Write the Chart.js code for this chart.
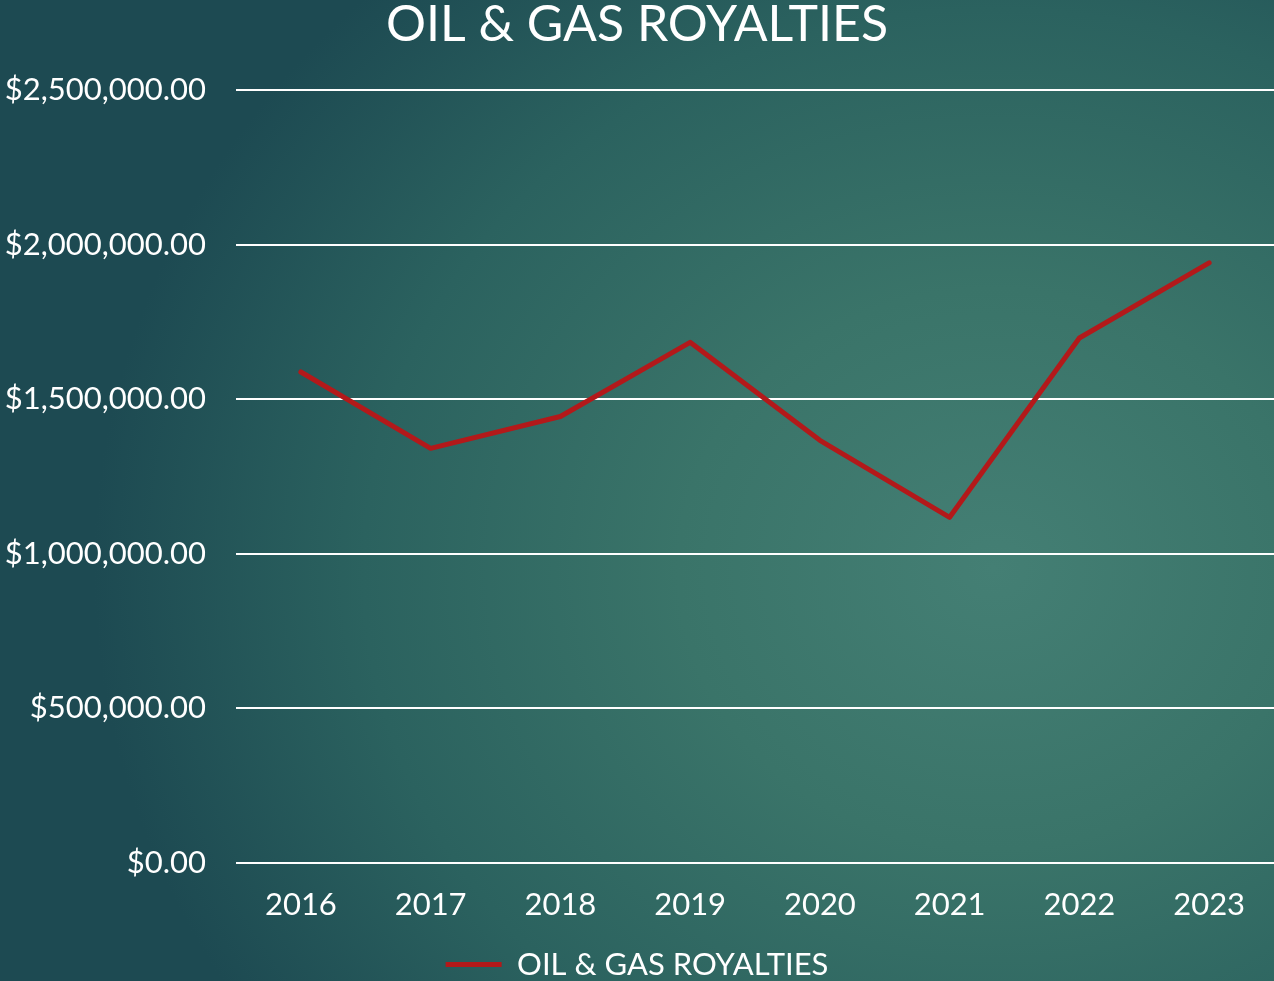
<!DOCTYPE html>
<html>
<head>
<meta charset="utf-8">
<script src="https://cdn.jsdelivr.net/npm/chart.js@4.4.1/dist/chart.umd.min.js"></script>
<style>
    html, body {
        margin: 0;
        padding: 0;
        overflow: hidden;
    }
    body {
        width: 1274px;
        height: 981px;
        background: radial-gradient(ellipse 900px 800px at 78% 58%, #447f74 0%, #3a7469 35%, #2b625f 70%, #1d4a52 100%);
    }
    #wrap {
        position: relative;
        width: 1274px;
        height: 981px;
    }
</style>
</head>
<body>
<div id="wrap"><canvas id="royaltiesChart"></canvas></div>
<script>
const years = ['2016', '2017', '2018', '2019', '2020', '2021', '2022', '2023'];
const royalties = [1588000, 1341000, 1444000, 1684000, 1367000, 1118000, 1698000, 1941000];
const seriesName = 'OIL & GAS ROYALTIES';

const fontFamily = "'Lato', 'Open Sans', sans-serif";

function formatDollars(value) {
    return '$' + Number(value).toLocaleString('en-US', { minimumFractionDigits: 2, maximumFractionDigits: 2 });
}

const ctx = document.getElementById('royaltiesChart').getContext('2d');

new Chart(ctx, {
    type: 'line',
    data: {
        labels: years,
        datasets: [{
            label: seriesName,
            data: royalties,
            borderColor: '#b3191a',
            backgroundColor: '#b3191a',
            borderWidth: 5,
            borderCapStyle: 'round',
            borderJoinStyle: 'round',
            pointRadius: 0,
            pointHoverRadius: 0,
            tension: 0,
            fill: false
        }]
    },
    options: {
        responsive: true,
        maintainAspectRatio: false,
        animation: false,
        layout: {
            // il legenda nel riferimento è tagliata in basso
            padding: { left: 0, right: 0, top: 0, bottom: -9 }
        },
        scales: {
            x: {
                offset: true,
                grid: { display: false },
                border: { display: false },
                ticks: {
                    color: '#ffffff',
                    padding: 15,
                    font: { family: fontFamily, size: 31 }
                },
                afterFit: function (scale) {
                    scale.height = 86;
                }
            },
            y: {
                min: 0,
                max: 2500000,
                grid: {
                    color: '#ffffff',
                    lineWidth: 2,
                    drawTicks: false
                },
                border: { display: false },
                ticks: {
                    stepSize: 500000,
                    color: '#ffffff',
                    padding: 30,
                    font: { family: fontFamily, size: 31 },
                    callback: function (value) {
                        return formatDollars(value);
                    }
                },
                afterFit: function (scale) {
                    scale.width = 236;
                }
            }
        },
        plugins: {
            title: {
                display: true,
                text: seriesName,
                color: '#ffffff',
                padding: { top: 0, bottom: 40 },
                font: { family: fontFamily, size: 50, weight: 'normal', lineHeight: 1 }
            },
            legend: {
                position: 'bottom',
                labels: {
                    color: '#ffffff',
                    usePointStyle: true,
                    pointStyle: 'line',
                    pointStyleWidth: 56,
                    padding: 0,
                    font: { family: fontFamily, size: 31 }
                }
            },
            tooltip: { enabled: false }
        }
    }
});
</script>
</body>
</html>
